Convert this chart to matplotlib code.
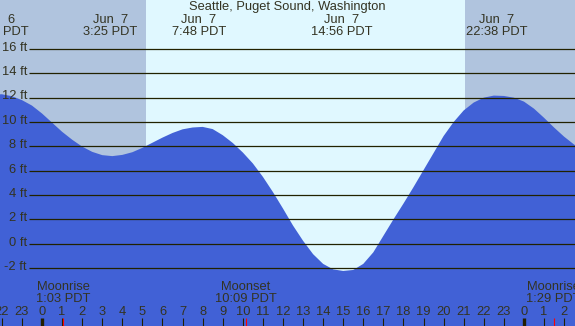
import numpy as np
import matplotlib.pyplot as plt

# tide height (ft) read every half hour, hours relative to Jun 7 00:00 PDT
hours = np.arange(-2.5, 27.01, 0.5)
heights = [12.25, 12.28, 12.12, 11.8, 11.35, 10.7, 9.95, 9.2, 8.55, 7.98,
           7.55, 7.28, 7.2, 7.3, 7.52, 7.88, 8.3, 8.72, 9.1, 9.4,
           9.55, 9.6, 9.42, 8.92, 8.28, 7.5, 6.6, 5.5, 4.25, 2.9,
           1.5, 0.25, -0.85, -1.65, -2.1, -2.23, -2.15, -1.65, -0.7, 0.65,
           2.0, 3.3, 4.65, 6.05, 7.45, 8.85, 10.0, 10.95, 11.6, 12.0,
           12.17, 12.14, 12.0, 11.68, 11.1, 10.35, 9.55, 8.8, 8.15, 7.55]

# tide extremes shown at the top
event_hours = [-2.22, 3 + 25/60, 7 + 48/60, 14 + 56/60, 22 + 38/60]
event_days = ["Jun  6", "Jun  7", "Jun  7", "Jun  7", "Jun  7"]
event_times = ["21:47 PDT", "3:25 PDT", "7:48 PDT", "14:56 PDT", "22:38 PDT"]

# moon events shown at the bottom
moon_hours = [1 + 3/60, 10 + 9/60, 24 + 1 + 29/60]
moon_names = ["Moonrise", "Moonset", "Moonrise"]
moon_times = ["1:03 PDT", "10:09 PDT", "1:29 PDT"]

sunrise = 5 + 12/60
sunset = 21 + 4/60

grid_levels = [16, 14, 12, 10, 8, 6, 4, 2, 0, -2]
hour_ticks = list(range(-2, 27))

x_left, x_right = -2.092, 26.544
y_bottom, y_top = -6.75, 20.02

night_col = "#b0c4de"
day_col = "#e0f8ff"
water_col = "#4161d6"
ink = "#333322"

fig = plt.figure(figsize=(5.75, 3.26), dpi=100)
ax = fig.add_axes([0, 0, 1, 1])
ax.set_xlim(x_left, x_right)
ax.set_ylim(y_bottom, y_top)
ax.axis("off")

plt.rcParams['font.family'] = ['Liberation Sans', 'DejaVu Sans']
fs = 9.3

ax.axvspan(x_left, sunrise, color=night_col, lw=0)
ax.axvspan(sunrise, sunset, color=day_col, lw=0)
ax.axvspan(sunset, x_right, color=night_col, lw=0)

ax.fill_between(hours, heights, y_bottom - 1, color=water_col, lw=0)

ax.hlines(grid_levels, -0.65, x_right, color="#222200", lw=0.9)
for g in grid_levels:
    ax.text(-0.75, g + 0.1, f"{g} ft", ha="right", va="center",
            fontsize=fs, color=ink)

xt = ax.get_xaxis_transform()
ax.text(12.2, 0.978, "Seattle, Puget Sound, Washington", transform=xt,
        ha="center", va="center", fontsize=fs, color=ink)

for h, d, t in zip(event_hours, event_days, event_times):
    ax.text(h, 0.94, d, transform=xt, ha="center", va="center", fontsize=fs, color=ink)
    ax.text(h, 0.903, t, transform=xt, ha="center", va="center", fontsize=fs, color=ink)

for h, n, t in zip(moon_hours, moon_names, moon_times):
    ax.text(h, 0.12, n, transform=xt, ha="center", va="center", fontsize=fs, color=ink)
    ax.text(h, 0.082, t, transform=xt, ha="center", va="center", fontsize=fs, color=ink)

for h in hour_ticks:
    ax.text(h, 0.044, str(h % 24), transform=xt, ha="center", va="center",
            fontsize=fs, color=ink)
    if h % 24 == 0:
        ax.vlines(h, 0, 0.026, transform=xt, color="#221f00", lw=2.4)
    else:
        ax.vlines(h, 0, 0.024, transform=xt, color="#221f00", lw=0.8)

ax.vlines(moon_hours, 0, 0.026, transform=xt, color="red", lw=0.8)

fig.savefig("out.png", dpi=100)
